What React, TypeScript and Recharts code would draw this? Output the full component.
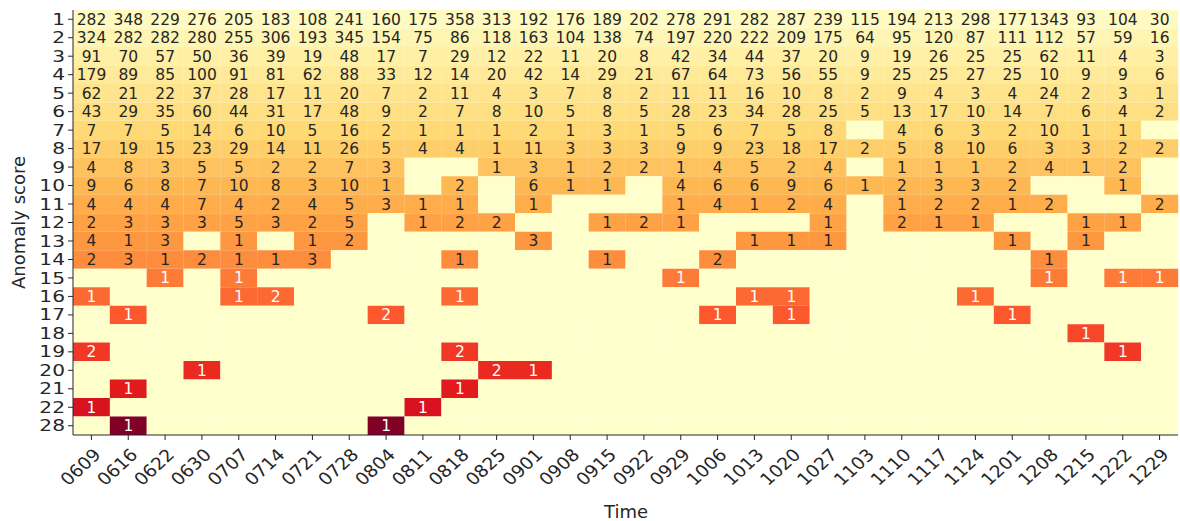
import { BarChart, Bar, XAxis, YAxis, Cell, LabelList } from 'recharts'

const dates = [
  '0609', '0616', '0622', '0630', '0707', '0714', '0721', '0728', '0804', '0811',
  '0818', '0825', '0901', '0908', '0915', '0922', '0929', '1006', '1013', '1020',
  '1027', '1103', '1110', '1117', '1124', '1201', '1208', '1215', '1222', '1229',
]
const scores = [1, 2, 3, 4, 5, 6, 7, 8, 9, 10, 11, 12, 13, 14, 15, 16, 17, 18, 19, 20, 21, 22, 28]

// counts per anomaly score, one value per week (0 = no cell)
const score1 = [282, 348, 229, 276, 205, 183, 108, 241, 160, 175, 358, 313, 192, 176, 189, 202, 278, 291, 282, 287, 239, 115, 194, 213, 298, 177, 1343, 93, 104, 30]
const score2 = [324, 282, 282, 280, 255, 306, 193, 345, 154, 75, 86, 118, 163, 104, 138, 74, 197, 220, 222, 209, 175, 64, 95, 120, 87, 111, 112, 57, 59, 16]
const score3 = [91, 70, 57, 50, 36, 39, 19, 48, 17, 7, 29, 12, 22, 11, 20, 8, 42, 34, 44, 37, 20, 9, 19, 26, 25, 25, 62, 11, 4, 3]
const score4 = [179, 89, 85, 100, 91, 81, 62, 88, 33, 12, 14, 20, 42, 14, 29, 21, 67, 64, 73, 56, 55, 9, 25, 25, 27, 25, 10, 9, 9, 6]
const score5 = [62, 21, 22, 37, 28, 17, 11, 20, 7, 2, 11, 4, 3, 7, 8, 2, 11, 11, 16, 10, 8, 2, 9, 4, 3, 4, 24, 2, 3, 1]
const score6 = [43, 29, 35, 60, 44, 31, 17, 48, 9, 2, 7, 8, 10, 5, 8, 5, 28, 23, 34, 28, 25, 5, 13, 17, 10, 14, 7, 6, 4, 2]
const score7 = [7, 7, 5, 14, 6, 10, 5, 16, 2, 1, 1, 1, 2, 1, 3, 1, 5, 6, 7, 5, 8, 0, 4, 6, 3, 2, 10, 1, 1, 0]
const score8 = [17, 19, 15, 23, 29, 14, 11, 26, 5, 4, 4, 1, 11, 3, 3, 3, 9, 9, 23, 18, 17, 2, 5, 8, 10, 6, 3, 3, 2, 2]
const score9 = [4, 8, 3, 5, 5, 2, 2, 7, 3, 0, 0, 1, 3, 1, 2, 2, 1, 4, 5, 2, 4, 0, 1, 1, 1, 2, 4, 1, 2, 0]
const score10 = [9, 6, 8, 7, 10, 8, 3, 10, 1, 0, 2, 0, 6, 1, 1, 0, 4, 6, 6, 9, 6, 1, 2, 3, 3, 2, 0, 0, 1, 0]
const score11 = [4, 4, 4, 7, 4, 2, 4, 5, 3, 1, 1, 0, 1, 0, 0, 0, 1, 4, 1, 2, 4, 0, 1, 2, 2, 1, 2, 0, 0, 2]
const score12 = [2, 3, 3, 3, 5, 3, 2, 5, 0, 1, 2, 2, 0, 0, 1, 2, 1, 0, 0, 0, 1, 0, 2, 1, 1, 0, 0, 1, 1, 0]
const score13 = [4, 1, 3, 0, 1, 0, 1, 2, 0, 0, 0, 0, 3, 0, 0, 0, 0, 0, 1, 1, 1, 0, 0, 0, 0, 1, 0, 1, 0, 0]
const score14 = [2, 3, 1, 2, 1, 1, 3, 0, 0, 0, 1, 0, 0, 0, 1, 0, 0, 2, 0, 0, 0, 0, 0, 0, 0, 0, 1, 0, 0, 0]
const score15 = [0, 0, 1, 0, 1, 0, 0, 0, 0, 0, 0, 0, 0, 0, 0, 0, 1, 0, 0, 0, 0, 0, 0, 0, 0, 0, 1, 0, 1, 1]
const score16 = [1, 0, 0, 0, 1, 2, 0, 0, 0, 0, 1, 0, 0, 0, 0, 0, 0, 0, 1, 1, 0, 0, 0, 0, 1, 0, 0, 0, 0, 0]
const score17 = [0, 1, 0, 0, 0, 0, 0, 0, 2, 0, 0, 0, 0, 0, 0, 0, 0, 1, 0, 1, 0, 0, 0, 0, 0, 1, 0, 0, 0, 0]
const score18 = [0, 0, 0, 0, 0, 0, 0, 0, 0, 0, 0, 0, 0, 0, 0, 0, 0, 0, 0, 0, 0, 0, 0, 0, 0, 0, 0, 1, 0, 0]
const score19 = [2, 0, 0, 0, 0, 0, 0, 0, 0, 0, 2, 0, 0, 0, 0, 0, 0, 0, 0, 0, 0, 0, 0, 0, 0, 0, 0, 0, 1, 0]
const score20 = [0, 0, 0, 1, 0, 0, 0, 0, 0, 0, 0, 2, 1, 0, 0, 0, 0, 0, 0, 0, 0, 0, 0, 0, 0, 0, 0, 0, 0, 0]
const score21 = [0, 1, 0, 0, 0, 0, 0, 0, 0, 0, 1, 0, 0, 0, 0, 0, 0, 0, 0, 0, 0, 0, 0, 0, 0, 0, 0, 0, 0, 0]
const score22 = [1, 0, 0, 0, 0, 0, 0, 0, 0, 1, 0, 0, 0, 0, 0, 0, 0, 0, 0, 0, 0, 0, 0, 0, 0, 0, 0, 0, 0, 0]
const score28 = [0, 1, 0, 0, 0, 0, 0, 0, 1, 0, 0, 0, 0, 0, 0, 0, 0, 0, 0, 0, 0, 0, 0, 0, 0, 0, 0, 0, 0, 0]

const counts = [
  score1, score2, score3, score4, score5, score6, score7, score8, score9, score10, score11, score12,
  score13, score14, score15, score16, score17, score18, score19, score20, score21, score22, score28,
]

const FONT = '"DejaVu Sans", sans-serif'
const INK = '#262626'
const EMPTY = '#ffffcc'
const YLORRD = ['#ffffcc', '#ffeda0', '#fed976', '#feb24c', '#fd8d3c', '#fc4e2a', '#e31a1c', '#bd0026', '#800026']

function ylOrRd(t: number) {
  const p = Math.max(0, Math.min(1, t)) * (YLORRD.length - 1)
  const i = Math.min(Math.floor(p), YLORRD.length - 2)
  const f = p - i
  const a = YLORRD[i], b = YLORRD[i + 1]
  const ch = (s: string, k: number) => parseInt(s.slice(1 + k * 2, 3 + k * 2), 16)
  const mix = [0, 1, 2].map((k) => Math.round(ch(a, k) + (ch(b, k) - ch(a, k)) * f))
  return `rgb(${mix.join(',')})`
}

const maxScore = 28

const data = dates.map((date, i) => {
  const d: Record<string, string | number> = { date }
  counts.forEach((row, r) => {
    d[`s${r}`] = 1
    d[`c${r}`] = row[i]
  })
  return d
})

const rowTicks = scores.map((_, r) => r + 0.5)

// the reference text is a bit wider than it is tall
const STRETCH = 1.3

function XTick(props: any) {
  const { x, y, payload } = props
  return (
    <g transform={`translate(${x + 5},${y + 9})`}>
      <text x={0} y={0} dy={7} textAnchor="end" transform={`scale(1.1,1) rotate(-45)`}
        fontFamily={FONT} fontSize={17} fill={INK}>{payload.value}</text>
    </g>
  )
}

function YTick(props: any) {
  const { x, y, payload } = props
  return (
    <g transform={`translate(${x - 1},${y}) scale(${STRETCH},1)`}>
      <text x={0} y={0} textAnchor="end" dominantBaseline="central"
        fontFamily={FONT} fontSize={15.5} fill={INK}>{scores[Math.floor(payload.value)]}</text>
    </g>
  )
}

function cellLabel(r: number) {
  const light = scores[r] >= 15
  return (p: any) => {
    const v = Number(p.value)
    if (!v) return null
    return (
      <text x={p.x + p.width / 2} y={p.y + p.height / 2 + 0.5} textAnchor="middle" dominantBaseline="central"
        fontFamily={FONT} fontSize={15.5} fill={light ? '#ffffff' : INK}>{v}</text>
    )
  }
}

export default function App() {
  return (
    <div style={{ position: 'absolute', left: 0, top: 0, background: '#fff' }}>
      <BarChart width={1180} height={521} data={data} barCategoryGap={0} barGap={0}
        margin={{ top: 10, right: 2, bottom: 0, left: 0 }}>
        <XAxis dataKey="date" interval={0} height={86} tickSize={5} tick={<XTick />}
          axisLine={{ stroke: INK }} tickLine={{ stroke: INK }}
          label={{
            position: 'center',
            content: () => (
              <text x={626} y={511} textAnchor="middle" dominantBaseline="central"
                fontFamily={FONT} fontSize={18} fill={INK}>Time</text>
            ),
          }} />
        <XAxis xAxisId="top" dataKey="date" orientation="top" height={0} tick={false} tickLine={false}
          axisLine={{ stroke: INK }} />
        <YAxis type="number" domain={[0, scores.length]} reversed ticks={rowTicks} interval={0} width={73}
          tickSize={5} allowDecimals tick={<YTick />}
          axisLine={{ stroke: INK }} tickLine={{ stroke: INK }}
          label={{
            position: 'center',
            content: (p: any) => {
              const cy = p.viewBox.y + p.viewBox.height / 2
              return (
                <text x={18} y={cy} transform={`rotate(-90, 18, ${cy})`} textAnchor="middle"
                  dominantBaseline="central" fontFamily={FONT} fontSize={18} fill={INK}>Anomaly score</text>
              )
            },
          }} />
        <YAxis yAxisId="right" orientation="right" type="number" domain={[0, scores.length]} width={0}
          tick={false} tickLine={false} axisLine={{ stroke: INK }} />
        {counts.map((row, r) => (
          <Bar key={r} dataKey={`s${r}`} stackId="grid" isAnimationActive={false}>
            {row.map((v, i) => (
              <Cell key={i} fill={v > 0 ? ylOrRd(scores[r] / maxScore) : EMPTY} />
            ))}
            <LabelList dataKey={`c${r}`} content={cellLabel(r)} />
          </Bar>
        ))}
      </BarChart>
    </div>
  )
}
